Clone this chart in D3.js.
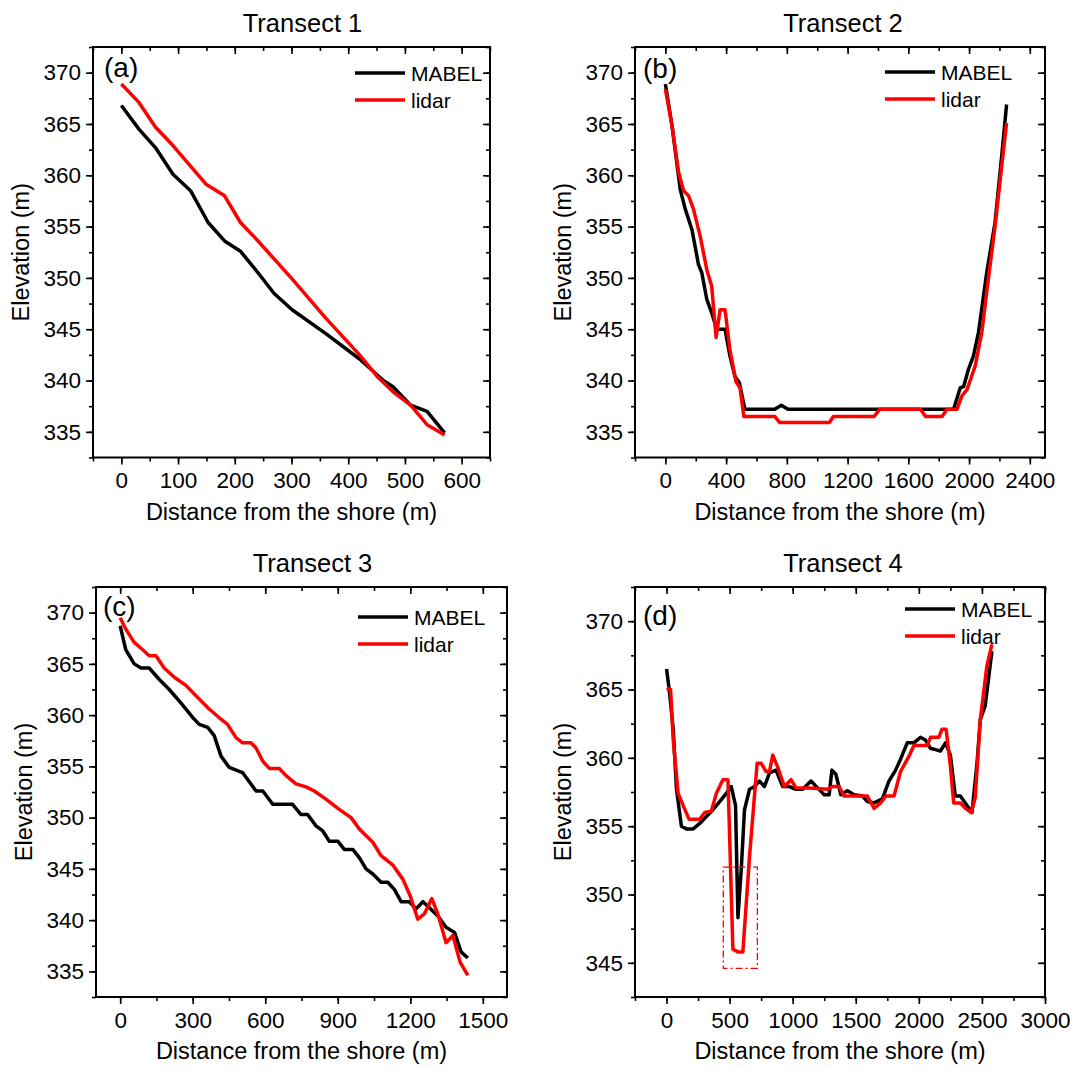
<!DOCTYPE html>
<html>

<head>
    <meta charset="UTF-8" />
    <title>transects</title>
    <style>
        body {
            margin: 0;
            padding: 0;
            background-color: white;
            font-family: 'Liberation Sans', Arial, sans-serif;
        }

        svg text {
            fill: black;
            font-family: 'Liberation Sans', Arial, sans-serif;
        }

        .domain {
            display: none;
        }
    </style>
</head>

<body>

    <div id="chart"></div>

    <script src="https://cdnjs.cloudflare.com/ajax/libs/d3/7.8.5/d3.min.js"></script>

    <script>
        // data: [distance (m), elevation (m)]
        const t1Mabel = [[0, 366.8], [31, 364.5], [60, 362.7], [91, 360.1], [122, 358.5], [153, 355.4], [182, 353.6], [210, 352.6], [241, 350.5], [269, 348.5], [301, 346.9], [360, 344.6], [420, 342.1], [462, 340.0], [479, 339.4], [510, 337.6], [539, 337.0], [570, 334.9]]
        const t1Lidar = [[0, 368.9], [31, 367.1], [60, 364.7], [91, 362.9], [122, 360.9], [150, 359.1], [182, 358.0], [210, 355.4], [241, 353.6], [301, 349.9], [360, 346.1], [420, 342.5], [451, 340.4], [479, 338.9], [510, 337.6], [539, 335.7], [570, 334.7]]

        const t2Mabel = [[0, 368.9], [44, 364.8], [98, 358.6], [131, 356.7], [175, 354.7], [218, 351.3], [240, 350.5], [273, 347.9], [305, 346.6], [338, 345.0], [393, 345.0], [425, 342.4], [458, 340.4], [487, 339.8], [524, 337.2], [720, 337.2], [764, 337.6], [807, 337.2], [1898, 337.2], [1942, 339.3], [1964, 339.4], [1996, 341.1], [2029, 342.4], [2062, 344.7], [2116, 350.5], [2171, 355.4], [2215, 361.9], [2247, 366.9]]
        const t2Lidar = [[0, 368.4], [44, 364.8], [87, 360.3], [120, 358.5], [153, 358.0], [185, 356.7], [229, 354.1], [273, 350.8], [305, 349.2], [334, 344.2], [360, 346.9], [393, 346.9], [425, 343.0], [465, 339.9], [491, 339.3], [517, 336.5], [720, 336.5], [753, 335.9], [1080, 335.9], [1106, 336.5], [1375, 336.5], [1412, 337.2], [1680, 337.2], [1713, 336.5], [1822, 336.5], [1855, 337.2], [1920, 337.2], [1953, 338.5], [1986, 339.1], [2040, 341.4], [2084, 344.7], [2127, 349.9], [2171, 355.0], [2215, 360.9], [2247, 365.1]]

        const t3Mabel = [[0, 368.7], [23, 366.4], [58, 365.0], [86, 364.6], [120, 364.6], [161, 363.5], [203, 362.5], [251, 361.2], [299, 359.8], [327, 359.1], [362, 358.8], [389, 358.0], [417, 356.0], [451, 354.9], [506, 354.4], [562, 352.6], [590, 352.6], [631, 351.3], [713, 351.3], [748, 350.3], [775, 350.3], [810, 349.2], [838, 348.7], [865, 347.7], [900, 347.7], [927, 346.9], [962, 346.9], [989, 346.1], [1017, 345.0], [1045, 344.5], [1079, 343.7], [1107, 343.7], [1134, 343.0], [1162, 341.8], [1196, 341.8], [1224, 341.1], [1252, 341.8], [1279, 341.2], [1314, 340.4], [1348, 339.3], [1383, 338.8], [1410, 336.9], [1438, 336.3]]
        const t3Lidar = [[0, 369.5], [23, 368.4], [58, 367.1], [92, 366.4], [120, 365.8], [148, 365.8], [182, 364.6], [224, 363.7], [272, 362.9], [313, 361.9], [368, 360.6], [417, 359.6], [444, 359.1], [479, 357.8], [506, 357.3], [541, 357.3], [562, 356.8], [590, 355.5], [617, 354.8], [658, 354.8], [686, 354.1], [727, 353.3], [769, 353.0], [803, 352.6], [851, 351.8], [906, 350.8], [955, 350.0], [989, 348.9], [1045, 347.6], [1079, 346.3], [1127, 345.4], [1169, 344.0], [1199, 342.4], [1231, 340.1], [1258, 340.6], [1289, 342.1], [1314, 340.6], [1348, 337.8], [1376, 338.5], [1406, 335.9], [1438, 334.6]]

        const t4Mabel = [[0, 366.5], [21, 365.0], [53, 362.1], [79, 357.7], [118, 355.0], [158, 354.8], [211, 354.8], [263, 355.2], [316, 355.7], [368, 356.2], [421, 356.8], [474, 357.4], [513, 357.9], [547, 356.5], [566, 348.3], [592, 351.8], [618, 356.2], [658, 357.7], [697, 357.9], [737, 358.3], [776, 357.9], [816, 358.9], [868, 359.1], [921, 357.9], [974, 357.9], [1026, 357.7], [1079, 357.7], [1145, 358.3], [1197, 357.8], [1250, 357.3], [1289, 357.3], [1311, 359.1], [1342, 358.8], [1382, 357.3], [1434, 357.6], [1487, 357.3], [1553, 357.2], [1592, 356.8], [1645, 356.7], [1711, 357.0], [1763, 358.3], [1816, 359.1], [1855, 359.9], [1908, 361.1], [1961, 361.1], [2013, 361.5], [2053, 361.3], [2092, 360.7], [2132, 360.6], [2171, 360.5], [2211, 361.1], [2250, 360.2], [2289, 357.2], [2329, 357.2], [2368, 356.7], [2421, 356.0], [2461, 359.6], [2487, 362.8], [2526, 363.8], [2579, 367.8]]
        const t4Lidar = [[0, 365.1], [32, 365.0], [53, 361.3], [92, 357.4], [132, 356.5], [179, 355.5], [263, 355.5], [303, 356.0], [355, 356.1], [395, 357.4], [447, 358.4], [487, 358.4], [526, 346.0], [566, 345.8], [605, 345.8], [658, 352.8], [718, 359.6], [750, 359.6], [789, 359.0], [816, 359.0], [842, 360.2], [882, 359.3], [934, 357.9], [987, 358.4], [1026, 357.8], [1132, 357.8], [1276, 357.7], [1316, 357.9], [1368, 357.9], [1408, 357.2], [1526, 357.2], [1592, 357.2], [1645, 356.3], [1697, 356.7], [1737, 357.2], [1803, 357.2], [1855, 359.0], [1921, 360.1], [1961, 360.9], [2066, 360.9], [2092, 361.5], [2158, 361.5], [2184, 362.1], [2216, 362.1], [2250, 359.4], [2276, 356.7], [2329, 356.7], [2368, 356.3], [2416, 356.0], [2447, 357.1], [2487, 362.8], [2539, 366.7], [2579, 368.3]]

        // highlighted box in transect 4: [x0, x1, y0, y1]
        const t4Box = [450, 720, 344.6, 352]

        const titles = ['Transect 1', 'Transect 2', 'Transect 3', 'Transect 4']
        const letters = ['(a)', '(b)', '(c)', '(d)']
        const seriesNames = ['MABEL', 'lidar']
        const seriesColors = ['black', '#ff0000']

        const xDomains = [[-50, 650], [-200, 2500], [-100, 1600], [-250, 3000]]
        const xSteps = [100, 400, 300, 500]
        const yDomains = [[332.5, 372.5], [332.5, 372.5], [332.5, 372.5], [342.5, 372.5]]

        const series = [[t1Mabel, t1Lidar], [t2Mabel, t2Lidar], [t3Mabel, t3Lidar], [t4Mabel, t4Lidar]]

        // panel boxes in pixels
        const boxes = [
            { l: 93, r: 490, t: 47, b: 457.5, lab: [11, 30], leg: [135, 26] },
            { l: 635, r: 1045, t: 47, b: 457.5, lab: [8, 31], leg: [160, 25] },
            { l: 96, r: 507, t: 587, b: 997, lab: [7, 29], leg: [149, 30] },
            { l: 635, r: 1045, t: 587, b: 997, lab: [8, 38], leg: [140, 22] }
        ]

        const svg = d3.select('#chart').append('svg')
            .attr('width', 1076)
            .attr('height', 1070)

        // multiples of step inside [a, b]
        function range(a, b, step) {
            const out = []
            for (let v = Math.ceil(a / step - 1e-9) * step; v <= b + 1e-9; v += step) out.push(+v.toFixed(3))
            return out
        }

        boxes.forEach((bx, i) => {
            const g = svg.append('g')
            const x = d3.scaleLinear().domain(xDomains[i]).range([bx.l, bx.r])
            const y = d3.scaleLinear().domain(yDomains[i]).range([bx.b, bx.t])

            const xMinor = range(xDomains[i][0], xDomains[i][1], xSteps[i] / 2)
            const xMajor = range(xDomains[i][0], xDomains[i][1], xSteps[i])
            const yMinor = range(yDomains[i][0], yDomains[i][1], 2.5)
            const yMajor = range(yDomains[i][0], yDomains[i][1], 5)

            g.append('clipPath').attr('id', 'clip' + i)
                .append('rect')
                .attr('x', bx.l).attr('y', bx.t)
                .attr('width', bx.r - bx.l).attr('height', bx.b - bx.t)

            // axes, mirrored ticks on top and right
            const styleAxis = sel => {
                sel.selectAll('line').attr('stroke', 'black').attr('stroke-width', 1.6)
                sel.selectAll('text').style('font-size', '22.5px')
            }
            g.append('g').attr('transform', `translate(0,${bx.b})`)
                .call(d3.axisBottom(x).tickValues(xMinor).tickSize(4).tickFormat(''))
                .call(styleAxis)
            g.append('g').attr('transform', `translate(0,${bx.b})`)
                .call(d3.axisBottom(x).tickValues(xMajor).tickSize(7).tickPadding(8).tickFormat(d3.format('d')))
                .call(styleAxis)
            g.append('g').attr('transform', `translate(0,${bx.t})`)
                .call(d3.axisTop(x).tickValues(xMinor).tickSize(-4).tickFormat(''))
                .call(styleAxis)
            g.append('g').attr('transform', `translate(0,${bx.t})`)
                .call(d3.axisTop(x).tickValues(xMajor).tickSize(-7).tickFormat(''))
                .call(styleAxis)
            g.append('g').attr('transform', `translate(${bx.l},0)`)
                .call(d3.axisLeft(y).tickValues(yMinor).tickSize(4).tickFormat(''))
                .call(styleAxis)
            g.append('g').attr('transform', `translate(${bx.l},0)`)
                .call(d3.axisLeft(y).tickValues(yMajor).tickSize(7).tickPadding(5).tickFormat(d3.format('d')))
                .call(styleAxis)
            g.append('g').attr('transform', `translate(${bx.r},0)`)
                .call(d3.axisRight(y).tickValues(yMinor).tickSize(-4).tickFormat(''))
                .call(styleAxis)
            g.append('g').attr('transform', `translate(${bx.r},0)`)
                .call(d3.axisRight(y).tickValues(yMajor).tickSize(-7).tickFormat(''))
                .call(styleAxis)

            g.append('rect')
                .attr('x', bx.l).attr('y', bx.t)
                .attr('width', bx.r - bx.l).attr('height', bx.b - bx.t)
                .attr('fill', 'none').attr('stroke', 'black').attr('stroke-width', 2)

            const line = d3.line().x(d => x(d[0])).y(d => y(d[1]))
            series[i].forEach((s, j) => {
                g.append('path')
                    .datum(s)
                    .attr('d', line)
                    .attr('clip-path', `url(#clip${i})`)
                    .attr('fill', 'none')
                    .attr('stroke', seriesColors[j])
                    .attr('stroke-width', 3.5)
                    .attr('stroke-linejoin', 'round')
            })

            if (i === 3) {
                g.append('rect')
                    .attr('x', x(t4Box[0])).attr('y', y(t4Box[3]))
                    .attr('width', x(t4Box[1]) - x(t4Box[0]))
                    .attr('height', y(t4Box[2]) - y(t4Box[3]))
                    .attr('fill', 'none')
                    .attr('stroke', '#ff0000')
                    .attr('stroke-width', 1.3)
                    .attr('stroke-dasharray', '7,3,2,3')
            }

            // legend
            seriesNames.forEach((name, j) => {
                const ly = bx.t + bx.leg[1] + j * 27
                const lx = bx.r - bx.leg[0]
                g.append('line')
                    .attr('x1', lx).attr('x2', lx + 50)
                    .attr('y1', ly).attr('y2', ly)
                    .attr('stroke', seriesColors[j])
                    .attr('stroke-width', 3.5)
                g.append('text')
                    .attr('x', lx + 56).attr('y', ly + 7.5)
                    .style('font-size', '21px')
                    .text(name)
            })

            g.append('text')
                .attr('x', bx.l + bx.lab[0]).attr('y', bx.t + bx.lab[1])
                .style('font-size', '28px')
                .text(letters[i])

            g.append('text')
                .attr('x', (bx.l + bx.r) / 2 + (i % 2 === 0 ? 11 : 3))
                .attr('y', bx.t - 15)
                .attr('text-anchor', 'middle')
                .style('font-size', '25.5px')
                .text(titles[i])

            g.append('text')
                .attr('x', (bx.l + bx.r) / 2)
                .attr('y', bx.b + 62)
                .attr('text-anchor', 'middle')
                .style('font-size', '23.5px')
                .text('Distance from the shore (m)')

            g.append('text')
                .attr('transform', `translate(${bx.l - 64},${(bx.t + bx.b) / 2}) rotate(-90)`)
                .attr('text-anchor', 'middle')
                .style('font-size', '23.5px')
                .text('Elevation (m)')
        })
    </script>
</body>

</html>
